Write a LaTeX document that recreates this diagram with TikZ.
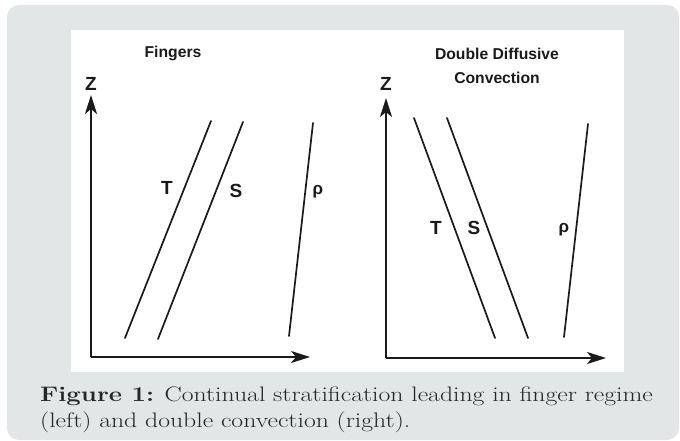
\documentclass[tikz,border=0pt]{standalone}
\usepackage{fontspec}
\usepackage{graphicx}
\newfontfamily\labelfont{Liberation Sans}
\usetikzlibrary{arrows.meta}
\definecolor{panelgray}{HTML}{E3E6E6}
\definecolor{inkcolor}{HTML}{1A1A1A}
\definecolor{captioncolor}{HTML}{262626}

\begin{document}
\begin{tikzpicture}[
  x=1pt, y=-1pt, >={Stealth[length=19pt,width=12pt,inset=5pt]},
  axis/.style={->, line width=2.2pt, draw=inkcolor},
  profile/.style={line width=1.7pt, draw=inkcolor, line cap=round},
  curvelabel/.style={font=\labelfont\bfseries\fontsize{19}{19}\selectfont, text=inkcolor, inner sep=0pt},
  paneltitle/.style={font=\labelfont\bfseries\fontsize{15.7}{24}\selectfont, align=center, text=inkcolor, inner sep=0pt},
  captionline/.style={anchor=base west, inner sep=0pt, text=captioncolor, font=\fontsize{21}{26}\selectfont}
]
  \useasboundingbox (0,0) rectangle (680,441);
  \fill[panelgray, rounded corners=12pt] (7,5) rectangle (679,440);
  \fill[white] (71,30) rectangle (624,372);

  % left panel: fingers
  \coordinate (o1) at (91,357);
  \coordinate (z1) at (91,95);
  \coordinate (x1) at (310,357);
  \draw[axis] (o1) -- (z1);
  \draw[axis] (o1) -- (x1);
  \node[curvelabel] (zl1) at (91,84) {Z};
  \node[paneltitle] (fingers) at (173,53) {Fingers};
  \coordinate (t1a) at (211,121); \coordinate (t1b) at (125,338);
  \coordinate (s1a) at (243,122); \coordinate (s1b) at (158,339);
  \coordinate (r1a) at (313,123); \coordinate (r1b) at (289,336);
  \draw[profile] (t1a) -- (t1b);
  \draw[profile] (s1a) -- (s1b);
  \draw[profile] (r1a) -- (r1b);
  \node[curvelabel] (tl1) at (167,188) {T};
  \node[curvelabel] (sl1) at (236,191) {S};
  \node[curvelabel, font=\labelfont\bfseries\fontsize{17}{17}\selectfont] (rl1) at (318,192) {ρ};

  % right panel: double diffusive convection
  \coordinate (o2) at (386,358);
  \coordinate (z2) at (386,98);
  \coordinate (x2) at (606,358);
  \draw[axis] (o2) -- (z2);
  \draw[axis] (o2) -- (x2);
  \node[curvelabel] (zl2) at (386,84) {Z};
  \node[paneltitle] (ddc) at (497,66) {Double Diffusive\\Convection};
  \coordinate (t2a) at (414,118); \coordinate (t2b) at (495,338);
  \coordinate (s2a) at (447,118); \coordinate (s2b) at (528,338);
  \coordinate (r2a) at (588,124); \coordinate (r2b) at (564,337);
  \draw[profile] (t2a) -- (t2b);
  \draw[profile] (s2a) -- (s2b);
  \draw[profile] (r2a) -- (r2b);
  \node[curvelabel] (tl2) at (436,228) {T};
  \node[curvelabel] (sl2) at (474,228) {S};
  \node[curvelabel, font=\labelfont\bfseries\fontsize{17}{17}\selectfont] (rl2) at (564,230) {ρ};

  % caption
  \node[captionline] (cap1) at (40,401) {\scalebox{1.225}[1]{\textbf{Figure 1:} Continual stratification leading in finger regime}};
  \node[captionline] (cap2) at ([yshift=-26pt]cap1.base west) {\scalebox{1.225}[1]{(left) and double convection (right).}};
\end{tikzpicture}
\end{document}
